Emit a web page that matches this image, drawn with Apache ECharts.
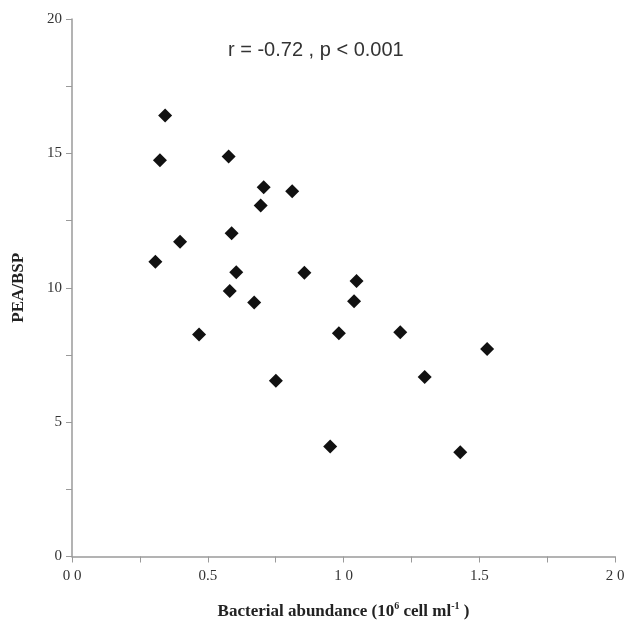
<!DOCTYPE html>
<html>
<head>
<meta charset="utf-8">
<script src="https://cdn.jsdelivr.net/npm/echarts@6/dist/echarts.min.js"></script>
<style>
html,body{margin:0;padding:0;background:#fff;}
#chart{width:630px;height:625px;}
</style>
</head>
<body>
<div id="chart"></div>
<script>
// Bacterial abundance (10^6 cell/ml)
const bacterialAbundance = [0.343, 0.324, 0.577, 0.706, 0.811, 0.695, 0.588, 0.398, 0.307, 0.605, 0.856, 1.048, 0.581, 0.671, 1.039, 0.468, 0.983, 1.209, 1.529, 0.751, 1.299, 0.951, 1.430];
// PEA/BSP ratio
const peaBsp = [16.41, 14.74, 14.88, 13.74, 13.59, 13.06, 12.03, 11.71, 10.97, 10.58, 10.56, 10.25, 9.88, 9.45, 9.50, 8.26, 8.31, 8.34, 7.72, 6.54, 6.68, 4.09, 3.88];
const xTickLabels = {"0": "0 0", "0.5": "0.5", "1": "1 0", "1.5": "1.5", "2": "2 0"};
const yTickLabels = {"0": "0", "5": "5", "10": "10", "15": "15", "20": "20"};
const annotation = "r = -0.72 , p < 0.001";

const points = bacterialAbundance.map((x, i) => [x, peaBsp[i]]);
const serif = '"Liberation Serif", "DejaVu Serif", serif';
const sans = '"Liberation Sans", Arial, sans-serif';
const axisStyle = {lineStyle: {color: '#9a9a9a', width: 1.5}};

const chart = echarts.init(document.getElementById('chart'));
chart.setOption({
  animation: false,
  backgroundColor: '#fff',
  grid: {left: 72, top: 19, right: 15, bottom: 67, containLabel: false},
  xAxis: {
    type: 'value', min: 0, max: 2, interval: 0.25,
    axisLine: {show: true, onZero: false, ...axisStyle},
    axisTick: {show: true, inside: false, length: 6, lineStyle: {color: '#9a9a9a', width: 1}},
    splitLine: {show: false},
    axisLabel: {
      show: true, margin: 12, color: '#333', fontFamily: serif, fontSize: 15,
      formatter: v => { const k = String(Math.round(v * 100) / 100); return xTickLabels[k] !== undefined ? xTickLabels[k] : ''; }
    },
    name: '{b|Bacterial abundance (10}{s|6}{b| cell ml}{s|-1}{b| )}',
    nameLocation: 'middle', nameGap: 45,
    nameTextStyle: {
      rich: {
        b: {fontFamily: serif, fontWeight: 'bold', fontSize: 17, color: '#222'},
        s: {fontFamily: serif, fontWeight: 'bold', fontSize: 10, color: '#222', verticalAlign: 'top', padding: [0, 0, 10, 0]}
      }
    }
  },
  yAxis: {
    type: 'value', min: 0, max: 20, interval: 2.5,
    axisLine: {show: true, onZero: false, ...axisStyle},
    axisTick: {show: true, inside: false, length: 6, lineStyle: {color: '#9a9a9a', width: 1}},
    splitLine: {show: false},
    axisLabel: {
      show: true, margin: 10, color: '#333', fontFamily: serif, fontSize: 15,
      formatter: v => { const k = String(v); return yTickLabels[k] !== undefined ? yTickLabels[k] : ''; }
    },
    name: 'PEA/BSP', nameLocation: 'middle', nameGap: 45,
    nameTextStyle: {fontFamily: serif, fontWeight: 'bold', fontSize: 17, color: '#222'}
  },
  graphic: [{
    type: 'text', left: 228, top: 40,
    style: {text: annotation, font: '20px ' + sans, fill: '#333'}
  }],
  series: [{
    type: 'scatter', data: points, symbol: 'diamond', symbolSize: 14,
    itemStyle: {color: '#111', opacity: 1}
  }]
});
</script>
</body>
</html>
